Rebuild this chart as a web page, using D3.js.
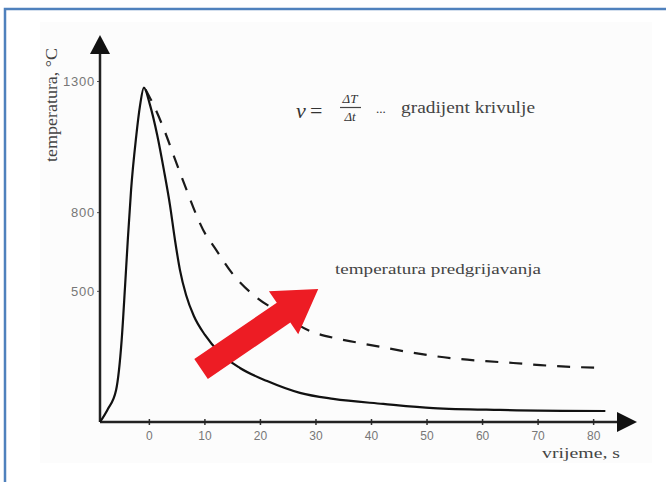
<!DOCTYPE html>
<html>
<head>
<meta charset="utf-8">
<script src="https://cdn.jsdelivr.net/npm/d3@7"></script>
<style>
  html, body { margin: 0; padding: 0; background: #fff; }
  svg { display: block; }
</style>
</head>
<body>
<div class="chart"></div>
<script>
// Tick values
const xTicks = [0, 10, 20, 30, 40, 50, 60, 70, 80]
const yTicks = [500, 800, 1300]

// Welding thermal cycle, without preheating (solid): [time s, temperature °C]
const solidCycle = [
  [-8.8, 0], [-7.4, 49], [-5.9, 122], [-4.9, 312], [-4.3, 513], [-3.8, 692],
  [-3.2, 886], [-2.3, 1085], [-1.6, 1205], [-0.9, 1275], [0.2, 1209], [1.5, 1094],
  [2.7, 961], [3.8, 827], [4.7, 694], [5.6, 579], [6.7, 484], [8.1, 404],
  [10.1, 332], [12.8, 263], [16.4, 206], [21.3, 156], [27.2, 111], [33.2, 88],
  [42.2, 69], [51.2, 53], [63.2, 46], [82.2, 42]
]

// With preheating (dashed)
const preheatCycle = [
  [-0.6, 1268], [1.1, 1197], [2.9, 1106], [4.5, 1014], [6.1, 923], [10.5, 705],
  [11.5, 675], [15.1, 564], [19.5, 473], [23.1, 423], [29, 347], [33.9, 318],
  [37.0, 305], [41.8, 286], [46.7, 267], [51.2, 252], [56, 240], [60.7, 232],
  [65.6, 225], [70.5, 217], [75.1, 211], [81.4, 207]
]

// Red arrow "temperatura predgrijavanja": tail and tip, [time s, temperature °C]
const arrowFrom = [9.4, 202]
const arrowTo = [30.5, 507]

const width = 666
const height = 482
const serif = "'Liberation Serif', 'DejaVu Serif', serif"
const sans = "'Liberation Sans', Arial, sans-serif"

const svg = d3.select(".chart").append("svg")
    .attr("width", width)
    .attr("height", height)
    .attr("viewBox", [0, 0, width, height])

// Frame (only top and left edges visible)
svg.append("rect")
    .attr("x", 40).attr("y", 22).attr("width", 612).attr("height", 441)
    .attr("fill", "#fcfcfc")
svg.append("path")
    .attr("d", "M5,482V9H666")
    .attr("fill", "none")
    .attr("stroke", "#4f81bd")
    .attr("stroke-width", 2.5)

// Scales
const x = d3.scaleLinear().domain([-8.8, 87.9]).range([100, 637])
const y = d3.scaleLinear().domain([0, 1300]).range([422, 81])
const yTop = 1475

// Axes ticks + labels
const gx = svg.append("g")
    .attr("transform", `translate(0,${y(0)})`)
    .call(d3.axisBottom(x).tickValues(xTicks).tickSize(3).tickPadding(6))
gx.select(".domain").remove()
gx.selectAll(".tick line").attr("y1", -3).attr("stroke", "#333").attr("stroke-width", 1.5)
gx.selectAll(".tick text")
    .attr("font-family", sans).attr("font-size", 12).attr("fill", "#777")

const gy = svg.append("g")
    .attr("transform", `translate(${x(-8.8)},0)`)
    .call(d3.axisLeft(y).tickValues(yTicks).tickFormat(d3.format("d")).tickSize(3).tickPadding(2))
gy.select(".domain").remove()
gy.selectAll(".tick line").attr("stroke", "#555").attr("stroke-width", 1)
gy.selectAll(".tick text")
    .attr("font-family", sans).attr("font-size", 13).attr("fill", "#777")
    .attr("letter-spacing", 0.8)

// Axis lines with arrow heads
const axisColor = "#222"
svg.append("line")
    .attr("x1", x(-8.8)).attr("y1", y(0))
    .attr("x2", x(-8.8)).attr("y2", y(yTop) + 14)
    .attr("stroke", axisColor).attr("stroke-width", 2.5)
svg.append("line")
    .attr("x1", x(-8.8)).attr("y1", y(0))
    .attr("x2", x(87.9) - 16).attr("y2", y(0))
    .attr("stroke", axisColor).attr("stroke-width", 2.5)
svg.append("path")
    .attr("d", `M${x(-8.8)},${y(yTop)}L${x(-8.8) - 10},${y(yTop) + 19}L${x(-8.8) + 10},${y(yTop) + 19}Z`)
    .attr("fill", "#111")
svg.append("path")
    .attr("d", `M${x(87.9)},${y(0)}L${x(87.9) - 20},${y(0) - 10}L${x(87.9) - 20},${y(0) + 10}Z`)
    .attr("fill", "#111")

// Curves
const line = d3.line()
    .x(d => x(d[0]))
    .y(d => y(d[1]))
    .curve(d3.curveMonotoneX)

svg.append("path")
    .datum(preheatCycle)
    .attr("d", line)
    .attr("fill", "none")
    .attr("stroke", "#1a1a1a")
    .attr("stroke-width", 2.2)
    .attr("stroke-dasharray", "13,11")

svg.append("path")
    .datum(solidCycle)
    .attr("d", line)
    .attr("fill", "none")
    .attr("stroke", "#111")
    .attr("stroke-width", 2.2)
    .attr("stroke-linejoin", "round")

// Red arrow
{
    const x0 = x(arrowFrom[0]), y0 = y(arrowFrom[1])
    const x1 = x(arrowTo[0]), y1 = y(arrowTo[1])
    const len = Math.hypot(x1 - x0, y1 - y0)
    const ang = Math.atan2(y1 - y0, x1 - x0) * 180 / Math.PI
    const shaft = 12, head = 26, headLen = 42
    svg.append("path")
        .attr("transform", `translate(${x0},${y0}) rotate(${ang})`)
        .attr("d", `M0,${-shaft}L${len - headLen},${-shaft}L${len - headLen},${-head}L${len},0` +
                   `L${len - headLen},${head}L${len - headLen},${shaft}L0,${shaft}Z`)
        .attr("fill", "#ed1c24")
}

// Texts
svg.append("text")
    .attr("transform", "translate(57,105) rotate(-90)")
    .attr("text-anchor", "middle")
    .attr("font-family", serif).attr("font-size", 16).attr("fill", "#444")
    .attr("textLength", 114).attr("lengthAdjust", "spacingAndGlyphs")
    .text("temperatura, °C")

svg.append("text")
    .attr("x", 335).attr("y", 274)
    .attr("font-family", serif).attr("font-size", 15).attr("fill", "#444")
    .attr("textLength", 206).attr("lengthAdjust", "spacingAndGlyphs")
    .text("temperatura predgrijavanja")

svg.append("text")
    .attr("x", 542).attr("y", 458)
    .attr("font-family", serif).attr("font-size", 15).attr("fill", "#444")
    .attr("textLength", 78).attr("lengthAdjust", "spacingAndGlyphs")
    .text("vrijeme, s")

// Formula v = ΔT/Δt ... gradijent krivulje
const f = svg.append("g").attr("font-family", serif).attr("fill", "#333")
f.append("text").attr("x", 296).attr("y", 118)
    .attr("font-size", 22).attr("font-style", "italic").text("v")
f.append("text").attr("x", 310).attr("y", 118)
    .attr("font-size", 22).text("=")
f.append("text").attr("x", 350).attr("y", 103).attr("text-anchor", "middle")
    .attr("font-size", 13).attr("font-style", "italic").text("ΔT")
f.append("line").attr("x1", 340).attr("x2", 361).attr("y1", 107.5).attr("y2", 107.5)
    .attr("stroke", "#444").attr("stroke-width", 1.2)
f.append("text").attr("x", 350).attr("y", 121).attr("text-anchor", "middle")
    .attr("font-size", 13).attr("font-style", "italic").text("Δt")
f.append("text").attr("x", 376).attr("y", 113)
    .attr("font-size", 13).text("...")
f.append("text").attr("x", 401).attr("y", 113)
    .attr("font-size", 16).attr("fill", "#444")
    .attr("textLength", 134).attr("lengthAdjust", "spacingAndGlyphs")
    .text("gradijent krivulje")
</script>
</body>
</html>
